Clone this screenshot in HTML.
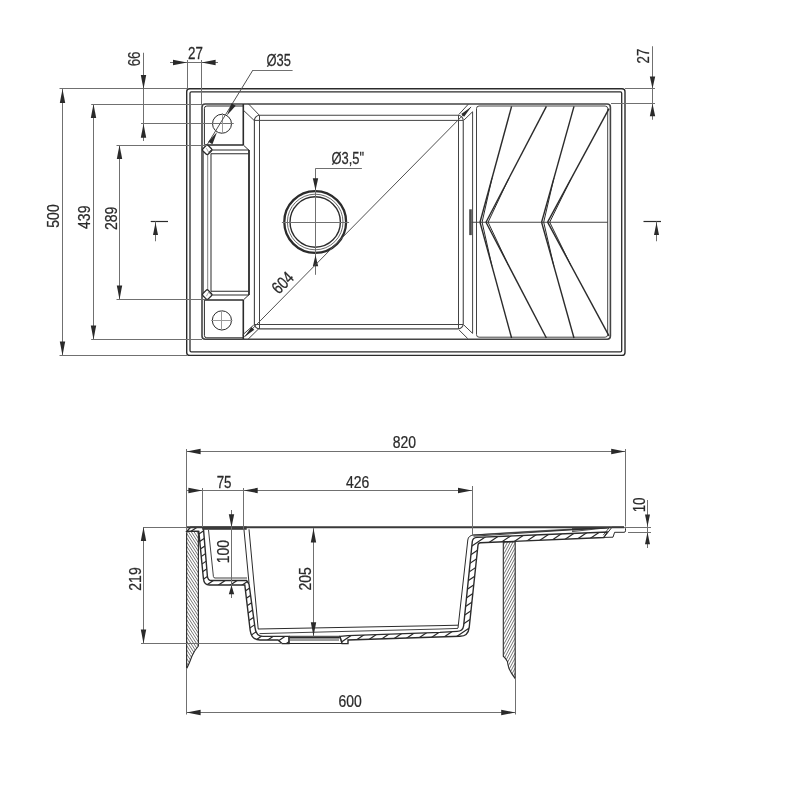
<!DOCTYPE html>
<html lang="en"><head><meta charset="utf-8"><title>Sink technical drawing</title>
<style>
html,body{margin:0;padding:0;background:#fff;}
body{width:800px;height:800px;overflow:hidden;font-family:"Liberation Sans",sans-serif;}
svg{display:block;will-change:transform;}
svg text{font-family:"Liberation Sans",sans-serif;}
</style></head><body>
<svg width="800" height="800" viewBox="0 0 800 800" shape-rendering="geometricPrecision">
<rect width="800" height="800" fill="#fff"/>
<g id="top-view">
<rect x="186.70" y="88.75" width="438.30" height="266.65" rx="3.0" ry="3.0" stroke="#2b2b2b" stroke-width="1.4" fill="none"/>
<rect x="190.00" y="91.90" width="431.70" height="259.90" rx="1.3" ry="1.3" stroke="#2b2b2b" stroke-width="1.3" fill="none"/>
<rect x="202.00" y="104.00" width="408.40" height="235.20" rx="3.2" ry="3.2" stroke="#444" stroke-width="1.6" fill="none"/>
<rect x="476.50" y="106.00" width="131.20" height="231.20" rx="2.6" ry="2.6" stroke="#444" stroke-width="1.0" fill="none"/>
<line x1="472.60" y1="111.75" x2="472.60" y2="333.40" stroke="#444" stroke-width="1.0" />
<line x1="471.50" y1="222.25" x2="607.70" y2="222.25" stroke="#444" stroke-width="1.0" />
<rect x="469.2" y="209.3" width="2.6" height="25.8" fill="#4a4a4a"/>
<line x1="511.60" y1="106.40" x2="480.00" y2="222.20" stroke="#2b2b2b" stroke-width="1.4" />
<line x1="492.01" y1="178.07" x2="482.10" y2="222.20" stroke="#2b2b2b" stroke-width="1.0" />
<line x1="546.40" y1="106.40" x2="486.00" y2="222.20" stroke="#2b2b2b" stroke-width="1.4" />
<line x1="508.95" y1="178.07" x2="488.10" y2="222.20" stroke="#2b2b2b" stroke-width="1.0" />
<line x1="574.00" y1="106.40" x2="541.60" y2="222.20" stroke="#2b2b2b" stroke-width="1.4" />
<line x1="553.91" y1="178.07" x2="543.70" y2="222.20" stroke="#2b2b2b" stroke-width="1.0" />
<line x1="609.00" y1="108.60" x2="547.60" y2="222.20" stroke="#2b2b2b" stroke-width="1.4" />
<line x1="570.93" y1="178.91" x2="549.70" y2="222.20" stroke="#2b2b2b" stroke-width="1.0" />
<line x1="511.60" y1="338.00" x2="480.00" y2="222.20" stroke="#2b2b2b" stroke-width="1.4" />
<line x1="492.01" y1="266.33" x2="482.10" y2="222.20" stroke="#2b2b2b" stroke-width="1.0" />
<line x1="546.40" y1="338.00" x2="486.00" y2="222.20" stroke="#2b2b2b" stroke-width="1.4" />
<line x1="508.95" y1="266.33" x2="488.10" y2="222.20" stroke="#2b2b2b" stroke-width="1.0" />
<line x1="574.00" y1="338.00" x2="541.60" y2="222.20" stroke="#2b2b2b" stroke-width="1.4" />
<line x1="553.91" y1="266.33" x2="543.70" y2="222.20" stroke="#2b2b2b" stroke-width="1.0" />
<line x1="609.00" y1="335.80" x2="547.60" y2="222.20" stroke="#2b2b2b" stroke-width="1.4" />
<line x1="570.93" y1="265.49" x2="549.70" y2="222.20" stroke="#2b2b2b" stroke-width="1.0" />
<path d="M204.4,144.8 V108.4 Q204.4,106 206.8,106 H243.3" stroke="#2b2b2b" stroke-width="1.0" fill="none" />
<line x1="243.30" y1="104.00" x2="243.30" y2="145.00" stroke="#2b2b2b" stroke-width="1.6" />
<line x1="205.00" y1="145.00" x2="243.30" y2="145.00" stroke="#2b2b2b" stroke-width="1.6" />
<path d="M204.4,300 V335.4 Q204.4,337.8 206.8,337.8 H243" stroke="#2b2b2b" stroke-width="1.0" fill="none" />
<line x1="243.30" y1="300.00" x2="243.30" y2="339.00" stroke="#2b2b2b" stroke-width="1.6" />
<line x1="205.00" y1="300.00" x2="243.30" y2="300.00" stroke="#2b2b2b" stroke-width="1.6" />
<line x1="203.30" y1="152.00" x2="203.30" y2="293.00" stroke="#555" stroke-width="1.0" />
<line x1="207.70" y1="154.00" x2="207.70" y2="291.00" stroke="#777" stroke-width="0.9" />
<line x1="211.00" y1="153.50" x2="211.00" y2="291.50" stroke="#666" stroke-width="1.4" />
<line x1="211.00" y1="150.00" x2="249.00" y2="150.00" stroke="#2b2b2b" stroke-width="1.0" />
<line x1="211.00" y1="153.75" x2="248.40" y2="153.75" stroke="#2b2b2b" stroke-width="1.0" />
<line x1="211.00" y1="291.25" x2="248.40" y2="291.25" stroke="#2b2b2b" stroke-width="1.0" />
<line x1="211.00" y1="295.00" x2="249.00" y2="295.00" stroke="#2b2b2b" stroke-width="1.0" />
<line x1="249.00" y1="150.00" x2="249.00" y2="295.00" stroke="#2b2b2b" stroke-width="1.8" />
<line x1="243.30" y1="145.00" x2="249.00" y2="150.30" stroke="#2b2b2b" stroke-width="1.0" />
<line x1="243.30" y1="300.00" x2="249.00" y2="294.70" stroke="#2b2b2b" stroke-width="1.0" />
<rect x="203.40" y="146.00" width="7.6" height="7.6" rx="1.6" transform="rotate(45 207.2 149.8)" stroke="#2b2b2b" stroke-width="1.3" fill="#fff"/>
<line x1="208.40" y1="152.40" x2="211.20" y2="150.00" stroke="#2b2b2b" stroke-width="0.8" />
<line x1="206.40" y1="148.20" x2="208.60" y2="152.20" stroke="#777" stroke-width="0.6" />
<rect x="203.40" y="290.80" width="7.6" height="7.6" rx="1.6" transform="rotate(45 207.2 294.6)" stroke="#2b2b2b" stroke-width="1.3" fill="#fff"/>
<line x1="208.40" y1="292.00" x2="211.20" y2="294.40" stroke="#2b2b2b" stroke-width="0.8" />
<line x1="206.40" y1="296.20" x2="208.60" y2="292.20" stroke="#777" stroke-width="0.6" />
<rect x="254.40" y="115.30" width="208.85" height="213.60" rx="5.2" ry="5.2" stroke="#444" stroke-width="1.1" fill="none"/>
<line x1="259.50" y1="115.30" x2="259.50" y2="328.90" stroke="#444" stroke-width="1.0" />
<line x1="458.50" y1="115.30" x2="458.50" y2="328.90" stroke="#444" stroke-width="1.0" />
<line x1="254.40" y1="120.40" x2="463.25" y2="120.40" stroke="#444" stroke-width="1.0" />
<line x1="254.40" y1="324.50" x2="463.25" y2="324.50" stroke="#444" stroke-width="1.0" />
<line x1="248.40" y1="103.80" x2="259.40" y2="115.30" stroke="#444" stroke-width="1.0" />
<line x1="243.75" y1="110.60" x2="254.10" y2="120.40" stroke="#444" stroke-width="1.0" />
<line x1="248.10" y1="339.20" x2="259.40" y2="328.10" stroke="#444" stroke-width="1.0" />
<line x1="242.50" y1="335.00" x2="253.75" y2="325.00" stroke="#444" stroke-width="1.0" />
<line x1="458.75" y1="114.60" x2="468.30" y2="104.20" stroke="#444" stroke-width="1.0" />
<line x1="464.00" y1="120.00" x2="472.60" y2="111.75" stroke="#444" stroke-width="1.0" />
<line x1="463.60" y1="324.75" x2="472.60" y2="333.40" stroke="#444" stroke-width="1.0" />
<line x1="459.10" y1="330.00" x2="467.75" y2="338.60" stroke="#444" stroke-width="1.0" />
<circle cx="315.20" cy="222.00" r="30.90" stroke="#2b2b2b" stroke-width="2.3" fill="none"/>
<circle cx="315.20" cy="222.00" r="27.80" stroke="#2b2b2b" stroke-width="0.7" fill="none"/>
<circle cx="315.20" cy="222.00" r="25.20" stroke="#2b2b2b" stroke-width="1.4" fill="none"/>
<line x1="281.90" y1="222.50" x2="349.10" y2="222.50" stroke="#707070" stroke-width="1.0" />
<line x1="315.50" y1="168.90" x2="315.50" y2="274.80" stroke="#707070" stroke-width="1.0" />
<line x1="315.20" y1="168.50" x2="361.90" y2="168.50" stroke="#707070" stroke-width="1.0" />
<polygon points="315.50,190.20 312.80,178.20 318.20,178.20" fill="#2a2a2a"/>
<polygon points="315.50,255.20 318.20,266.20 312.80,266.20" fill="#2a2a2a"/>
<text transform="translate(347.70,163.90) rotate(0) scale(0.742,1)" text-anchor="middle" font-size="17.4" fill="#2a2a2a" stroke="#2a2a2a" stroke-width="0.25">Ø3,5"</text>
<circle cx="222.00" cy="123.75" r="9.50" stroke="#2b2b2b" stroke-width="1.0" fill="none"/>
<circle cx="221.90" cy="320.40" r="9.60" stroke="#2b2b2b" stroke-width="1.0" fill="none"/>
<line x1="141.00" y1="123.50" x2="233.75" y2="123.50" stroke="#707070" stroke-width="1.0" />
<line x1="222.50" y1="113.00" x2="222.50" y2="133.75" stroke="#9a9a9a" stroke-width="1.0" />
<line x1="211.00" y1="320.50" x2="232.50" y2="320.50" stroke="#9a9a9a" stroke-width="1.0" />
<line x1="221.50" y1="310.00" x2="221.50" y2="331.00" stroke="#9a9a9a" stroke-width="1.0" />
<line x1="252.90" y1="70.50" x2="292.60" y2="70.50" stroke="#707070" stroke-width="1.0" />
<line x1="252.90" y1="70.10" x2="207.20" y2="144.60" stroke="#505050" stroke-width="1.0" />
<polygon points="226.90,115.60 231.57,103.23 235.68,105.71" fill="#2a2a2a"/>
<polygon points="217.10,131.90 212.43,144.27 208.32,141.79" fill="#2a2a2a"/>
<text transform="translate(278.75,65.80) rotate(0) scale(0.742,1)" text-anchor="middle" font-size="17.4" fill="#2a2a2a" stroke="#2a2a2a" stroke-width="0.25">Ø35</text>
<line x1="244.40" y1="336.90" x2="471.10" y2="106.90" stroke="#505050" stroke-width="1.0" />
<polygon points="244.40,336.90 251.40,326.95 254.25,329.76" fill="#2a2a2a"/>
<polygon points="471.10,106.90 464.10,116.85 461.25,114.04" fill="#2a2a2a"/>
<text transform="translate(286.90,286.90) rotate(-45.4) scale(0.794,1)" text-anchor="middle" font-size="17.4" fill="#2a2a2a" stroke="#2a2a2a" stroke-width="0.25">604</text>
<line x1="62.50" y1="88.90" x2="62.50" y2="355.60" stroke="#707070" stroke-width="1.0" />
<polygon points="62.50,88.90 65.20,102.90 59.80,102.90" fill="#2a2a2a"/>
<polygon points="62.50,355.60 59.80,341.60 65.20,341.60" fill="#2a2a2a"/>
<line x1="59.50" y1="88.50" x2="187.00" y2="88.50" stroke="#707070" stroke-width="1.0" />
<line x1="59.50" y1="355.50" x2="187.00" y2="355.50" stroke="#707070" stroke-width="1.0" />
<text transform="translate(59.40,216.00) rotate(-90) scale(0.803,1)" text-anchor="middle" font-size="17.4" fill="#2a2a2a" stroke="#2a2a2a" stroke-width="0.25">500</text>
<line x1="93.50" y1="104.00" x2="93.50" y2="339.40" stroke="#707070" stroke-width="1.0" />
<polygon points="93.50,104.00 96.20,118.00 90.80,118.00" fill="#2a2a2a"/>
<polygon points="93.50,339.40 90.80,325.40 96.20,325.40" fill="#2a2a2a"/>
<line x1="91.20" y1="104.50" x2="202.00" y2="104.50" stroke="#707070" stroke-width="1.0" />
<line x1="91.20" y1="339.50" x2="202.00" y2="339.50" stroke="#707070" stroke-width="1.0" />
<text transform="translate(90.40,217.25) rotate(-90) scale(0.803,1)" text-anchor="middle" font-size="17.4" fill="#2a2a2a" stroke="#2a2a2a" stroke-width="0.25">439</text>
<line x1="119.50" y1="145.00" x2="119.50" y2="299.60" stroke="#707070" stroke-width="1.0" />
<polygon points="119.50,145.00 122.20,159.00 116.80,159.00" fill="#2a2a2a"/>
<polygon points="119.50,299.60 116.80,285.60 122.20,285.60" fill="#2a2a2a"/>
<line x1="116.50" y1="145.50" x2="207.00" y2="145.50" stroke="#707070" stroke-width="1.0" />
<line x1="116.50" y1="299.50" x2="205.00" y2="299.50" stroke="#707070" stroke-width="1.0" />
<text transform="translate(117.10,218.30) rotate(-90) scale(0.803,1)" text-anchor="middle" font-size="17.4" fill="#2a2a2a" stroke="#2a2a2a" stroke-width="0.25">289</text>
<line x1="143.50" y1="52.75" x2="143.50" y2="141.00" stroke="#707070" stroke-width="1.0" />
<polygon points="143.50,88.90 140.80,74.90 146.20,74.90" fill="#2a2a2a"/>
<polygon points="143.50,123.75 146.20,137.75 140.80,137.75" fill="#2a2a2a"/>
<text transform="translate(140.20,58.90) rotate(-90) scale(0.768,1)" text-anchor="middle" font-size="17.4" fill="#2a2a2a" stroke="#2a2a2a" stroke-width="0.25">66</text>
<line x1="170.00" y1="62.50" x2="218.00" y2="62.50" stroke="#707070" stroke-width="1.0" />
<polygon points="187.00,62.50 173.00,65.20 173.00,59.80" fill="#2a2a2a"/>
<polygon points="201.60,62.50 215.60,59.80 215.60,65.20" fill="#2a2a2a"/>
<line x1="187.50" y1="60.00" x2="187.50" y2="89.00" stroke="#707070" stroke-width="1.0" />
<line x1="201.50" y1="60.00" x2="201.50" y2="104.00" stroke="#707070" stroke-width="1.0" />
<text transform="translate(195.40,58.60) rotate(0) scale(0.768,1)" text-anchor="middle" font-size="17.4" fill="#2a2a2a" stroke="#2a2a2a" stroke-width="0.25">27</text>
<line x1="652.50" y1="46.25" x2="652.50" y2="119.75" stroke="#707070" stroke-width="1.0" />
<polygon points="652.50,88.60 649.80,76.60 655.20,76.60" fill="#2a2a2a"/>
<polygon points="652.50,103.70 655.20,116.20 649.80,116.20" fill="#2a2a2a"/>
<line x1="625.00" y1="88.50" x2="655.00" y2="88.50" stroke="#707070" stroke-width="1.0" />
<line x1="611.00" y1="103.50" x2="655.00" y2="103.50" stroke="#707070" stroke-width="1.0" />
<text transform="translate(649.20,56.00) rotate(-90) scale(0.768,1)" text-anchor="middle" font-size="17.4" fill="#2a2a2a" stroke="#2a2a2a" stroke-width="0.25">27</text>
<line x1="150.75" y1="221.50" x2="168.00" y2="221.50" stroke="#2b2b2b" stroke-width="1.2" />
<line x1="155.50" y1="221.50" x2="155.50" y2="241.25" stroke="#707070" stroke-width="1.0" />
<polygon points="155.50,222.50 158.00,235.00 153.00,235.00" fill="#2a2a2a"/>
<line x1="643.50" y1="221.50" x2="661.00" y2="221.50" stroke="#2b2b2b" stroke-width="1.2" />
<line x1="656.50" y1="221.50" x2="656.50" y2="241.25" stroke="#707070" stroke-width="1.0" />
<polygon points="656.50,222.50 659.00,235.00 654.00,235.00" fill="#2a2a2a"/>
</g>
<g id="section-view">
<clipPath id="cw1"><path d="M186.6,533.2 Q186.6,531.4 188.4,531.4 H198.4 V646 Q194.5,650.5 192,656 Q189.5,663 187,668 L186.6,668 Z"/></clipPath>
<path d="M195.23,525.00L262.13,628.01 M193.26,526.28L260.15,629.29 M191.29,527.56L258.18,630.57 M189.32,528.84L256.21,631.85 M187.35,530.12L254.24,633.13 M185.38,531.40L252.27,634.41 M183.41,532.68L250.30,635.69 M181.44,533.96L248.33,636.97 M179.47,535.24L246.36,638.25 M177.50,536.52L244.39,639.53 M175.53,537.80L242.42,640.81 M173.55,539.08L240.45,642.08 M171.58,540.36L238.47,643.36 M169.61,541.64L236.50,644.64 M167.64,542.92L234.53,645.92 M165.67,544.20L232.56,647.20 M163.70,545.48L230.59,648.48 M161.73,546.76L228.62,649.76 M159.76,548.04L226.65,651.04 M157.79,549.32L224.68,652.32 M155.82,550.60L222.71,653.60 M153.85,551.88L220.74,654.88 M151.87,553.16L218.77,656.16 M149.90,554.44L216.79,657.44 M147.93,555.72L214.82,658.72 M145.96,557.00L212.85,660.00 M143.99,558.28L210.88,661.28 M142.02,559.56L208.91,662.56 M140.05,560.84L206.94,663.84 M138.08,562.12L204.97,665.12 M136.11,563.40L203.00,666.40 M134.14,564.68L201.03,667.68 M132.17,565.96L199.06,668.96 M130.20,567.24L197.09,670.24 M128.22,568.52L195.12,671.52 M126.25,569.80L193.14,672.80 M124.28,571.08L191.17,674.08" stroke="#3a3a3a" stroke-width="0.7" fill="none" clip-path="url(#cw1)"/>
<path d="M186.6,533.2 Q186.6,531.4 188.4,531.4 H198.4 V646 Q194.5,650.5 192,656 Q189.5,663 187,668 L186.6,668 Z" stroke="#2b2b2b" stroke-width="1.1" fill="none" />
<clipPath id="cw2"><path d="M503.3,542 H515.2 V678.7 Q511.5,674 509,668.5 Q507.8,664.5 507.4,661.5 Q505.5,658 503.3,656.2 Z"/></clipPath>
<path d="M445.24,649.29L505.73,535.54 M447.32,650.39L507.80,536.64 M449.39,651.50L509.88,537.74 M451.47,652.60L511.95,538.85 M453.54,653.70L514.03,539.95 M455.62,654.81L516.10,541.05 M457.69,655.91L518.18,542.16 M459.77,657.01L520.25,543.26 M461.84,658.12L522.33,544.36 M463.92,659.22L524.40,545.47 M465.99,660.32L526.48,546.57 M468.07,661.43L528.55,547.67 M470.14,662.53L530.63,548.78 M472.22,663.63L532.70,549.88 M474.29,664.74L534.78,550.98 M476.37,665.84L536.85,552.09 M478.44,666.94L538.93,553.19 M480.52,668.05L541.00,554.29 M482.59,669.15L543.08,555.40 M484.67,670.25L545.15,556.50 M486.74,671.36L547.23,557.60 M488.82,672.46L549.30,558.71 M490.89,673.56L551.38,559.81 M492.97,674.67L553.45,560.91 M495.04,675.77L555.53,562.02 M497.12,676.87L557.60,563.12 M499.19,677.98L559.67,564.22 M501.27,679.08L561.75,565.33 M503.34,680.18L563.82,566.43 M505.42,681.28L565.90,567.53 M507.49,682.39L567.97,568.64 M509.57,683.49L570.05,569.74 M511.64,684.59L572.12,570.84" stroke="#3a3a3a" stroke-width="0.7" fill="none" clip-path="url(#cw2)"/>
<path d="M503.3,542 H515.2 V678.7 Q511.5,674 509,668.5 Q507.8,664.5 507.4,661.5 Q505.5,658 503.3,656.2 Z" stroke="#2b2b2b" stroke-width="1.1" fill="none" />
<clipPath id="h1"><path d="M186.8,531.4 L190.6,527.2 H202.5 L203.5,529.3 L207.4,576.2 Q207.8,580.5 211.5,580.5 H246.6 L249,584 L255,627.5 Q256,636.4 263,636.4 H289 V643.6 H282 L278,640 H260 Q251.5,640 250.2,630.5 L244.8,585 H209.5 Q204,585 203.4,578.5 L198.8,531.4 Z"/></clipPath>
<path d="M131.15,563.68L257.80,478.26 M134.87,569.19L261.51,483.77 M138.59,574.71L265.23,489.28 M142.31,580.22L268.95,494.80 M146.02,585.73L272.67,500.31 M149.74,591.25L276.39,505.82 M153.46,596.76L280.11,511.33 M157.18,602.27L283.83,516.85 M160.90,607.79L287.55,522.36 M164.62,613.30L291.26,527.87 M168.34,618.81L294.98,533.39 M172.05,624.32L298.70,538.90 M175.77,629.84L302.42,544.41 M179.49,635.35L306.14,549.93 M183.21,640.86L309.86,555.44 M186.93,646.38L313.58,560.95 M190.65,651.89L317.29,566.47 M194.37,657.40L321.01,571.98 M198.08,662.92L324.73,577.49 M201.80,668.43L328.45,583.00 M205.52,673.94L332.17,588.52 M209.24,679.46L335.89,594.03 M212.96,684.97L339.61,599.54 M216.68,690.48L343.32,605.06" stroke="#2b2b2b" stroke-width="1.2" fill="none" clip-path="url(#h1)"/>
<path d="M186.8,531.4 L190.6,527.2 H202.5 L203.5,529.3 L207.4,576.2 Q207.8,580.5 211.5,580.5 H246.6 L249,584 L255,627.5 Q256,636.4 263,636.4 H289 V643.6 H282 L278,640 H260 Q251.5,640 250.2,630.5 L244.8,585 H209.5 Q204,585 203.4,578.5 L198.8,531.4 Z" stroke="#2b2b2b" stroke-width="1.4" fill="none" />
<clipPath id="h2"><path d="M340,636.4 L348,635.6 L440,632.4 L457,631.4 Q462.8,631.2 463.6,626 L472.3,541.5 Q472.8,537.6 477,537.4 L540,534.77 L607.6,531.93 L604,537.47 L480.5,542.8 Q478.2,543 478,545 L469.2,627.5 Q468.2,636.2 460,636.3 L348,640 V643.6 H342 Z"/></clipPath>
<path d="M286.33,566.91L527.75,404.06 M290.05,572.42L531.47,409.58 M293.76,577.93L535.19,415.09 M297.48,583.45L538.91,420.60 M301.20,588.96L542.63,426.12 M304.92,594.47L546.35,431.63 M308.64,599.99L550.06,437.14 M312.36,605.50L553.78,442.66 M316.08,611.01L557.50,448.17 M319.79,616.53L561.22,453.68 M323.51,622.04L564.94,459.19 M327.23,627.55L568.66,464.71 M330.95,633.07L572.38,470.22 M334.67,638.58L576.10,475.73 M338.39,644.09L579.81,481.25 M342.11,649.60L583.53,486.76 M345.82,655.12L587.25,492.27 M349.54,660.63L590.97,497.79 M353.26,666.14L594.69,503.30 M356.98,671.66L598.41,508.81 M360.70,677.17L602.13,514.33 M364.42,682.68L605.84,519.84 M368.14,688.20L609.56,525.35 M371.86,693.71L613.28,530.87 M375.57,699.22L617.00,536.38 M379.29,704.74L620.72,541.89 M383.01,710.25L624.44,547.40 M386.73,715.76L628.16,552.92 M390.45,721.28L631.87,558.43 M394.17,726.79L635.59,563.94 M397.89,732.30L639.31,569.46 M401.60,737.81L643.03,574.97 M405.32,743.33L646.75,580.48 M409.04,748.84L650.47,586.00 M412.76,754.35L654.19,591.51 M416.48,759.87L657.91,597.02 M420.20,765.38L661.62,602.54" stroke="#2b2b2b" stroke-width="1.2" fill="none" clip-path="url(#h2)"/>
<path d="M340,636.4 L348,635.6 L440,632.4 L457,631.4 Q462.8,631.2 463.6,626 L472.3,541.5 Q472.8,537.6 477,537.4 L540,534.77 L607.6,531.93 L604,537.47 L480.5,542.8 Q478.2,543 478,545 L469.2,627.5 Q468.2,636.2 460,636.3 L348,640 V643.6 H342 Z" stroke="#2b2b2b" stroke-width="1.4" fill="none" />
<path d="M612,527.2 H623.6 Q625.5,527.3 625.5,528.8 V530.8 Q625.5,532.3 624,532.3 H614.6 L613,537.2 L604,537.4 Z" stroke="#2b2b2b" stroke-width="1.0" fill="#fff" />
<line x1="609.50" y1="527.30" x2="603.20" y2="535.20" stroke="#2b2b2b" stroke-width="0.8" />
<path d="M610,527.4 L473.5,535.0" stroke="#2b2b2b" stroke-width="0.9" fill="none" />
<path d="M610,527.4 L473.5,536.2" stroke="#2b2b2b" stroke-width="0.9" fill="none" />
<path d="M609,527.8 Q560,529 473,535" stroke="#2b2b2b" stroke-width="0.7" fill="none" />
<line x1="609.50" y1="527.50" x2="572.00" y2="528.60" stroke="#2b2b2b" stroke-width="0.8" />
<line x1="609.50" y1="527.50" x2="572.00" y2="530.20" stroke="#2b2b2b" stroke-width="0.8" />
<line x1="609.50" y1="527.50" x2="572.00" y2="531.60" stroke="#2b2b2b" stroke-width="0.8" />
<path d="M458,628 L467.8,540 Q468.3,535.6 473.5,535" stroke="#2b2b2b" stroke-width="1.0" fill="none" />
<line x1="289.00" y1="636.30" x2="340.00" y2="636.30" stroke="#2b2b2b" stroke-width="1.0" />
<line x1="289.50" y1="637.80" x2="339.80" y2="637.80" stroke="#2b2b2b" stroke-width="1.4" />
<line x1="282.00" y1="643.50" x2="348.00" y2="643.50" stroke="#2b2b2b" stroke-width="1.1" />
<line x1="290.00" y1="640.00" x2="339.00" y2="640.00" stroke="#2b2b2b" stroke-width="0.9" />
<line x1="289.00" y1="636.40" x2="289.00" y2="643.60" stroke="#2b2b2b" stroke-width="1.0" />
<path d="M340,636.4 L342,643.6" stroke="#2b2b2b" stroke-width="1.0" fill="none" />
<path d="M258,629 L440,625.6 L458,625.2" stroke="#2b2b2b" stroke-width="1.0" fill="none" />
<path d="M259.5,633.6 L440,629 L458,628.4" stroke="#2b2b2b" stroke-width="0.9" fill="none" />
<line x1="244.00" y1="530.00" x2="249.00" y2="583.00" stroke="#2b2b2b" stroke-width="1.0" />
<line x1="249.00" y1="529.30" x2="258.20" y2="629.00" stroke="#2b2b2b" stroke-width="1.0" />
<path d="M208.5,530 L213.4,576.5 Q213.6,578 215,578 H247" stroke="#2b2b2b" stroke-width="0.9" fill="none" />
<line x1="143.00" y1="527.50" x2="651.00" y2="527.50" stroke="#707070" stroke-width="1.0" />
<line x1="187.00" y1="527.20" x2="624.00" y2="527.20" stroke="#3a3a3a" stroke-width="2.0" />
<rect x="202.3" y="526.5" width="44.4" height="3.3" fill="#3a3a3a"/>
<line x1="186.60" y1="451.50" x2="625.20" y2="451.50" stroke="#707070" stroke-width="1.0" />
<polygon points="186.60,451.50 200.60,448.80 200.60,454.20" fill="#2a2a2a"/>
<polygon points="625.20,451.50 611.20,454.20 611.20,448.80" fill="#2a2a2a"/>
<line x1="186.50" y1="449.00" x2="186.50" y2="531.00" stroke="#707070" stroke-width="1.0" />
<line x1="625.50" y1="449.00" x2="625.50" y2="526.50" stroke="#707070" stroke-width="1.0" />
<text transform="translate(404.30,447.60) rotate(0) scale(0.803,1)" text-anchor="middle" font-size="17.4" fill="#2a2a2a" stroke="#2a2a2a" stroke-width="0.25">820</text>
<line x1="186.60" y1="490.50" x2="472.00" y2="490.50" stroke="#707070" stroke-width="1.0" />
<polygon points="202.40,490.50 188.40,493.20 188.40,487.80" fill="#2a2a2a"/>
<polygon points="243.70,490.50 257.70,487.80 257.70,493.20" fill="#2a2a2a"/>
<polygon points="472.00,490.50 458.00,493.20 458.00,487.80" fill="#2a2a2a"/>
<line x1="202.50" y1="488.00" x2="202.50" y2="527.00" stroke="#707070" stroke-width="1.0" />
<line x1="243.50" y1="488.00" x2="243.50" y2="529.00" stroke="#707070" stroke-width="1.0" />
<line x1="472.50" y1="486.00" x2="472.50" y2="536.00" stroke="#707070" stroke-width="1.0" />
<text transform="translate(224.10,487.60) rotate(0) scale(0.768,1)" text-anchor="middle" font-size="17.4" fill="#2a2a2a" stroke="#2a2a2a" stroke-width="0.25">75</text>
<text transform="translate(357.60,487.60) rotate(0) scale(0.803,1)" text-anchor="middle" font-size="17.4" fill="#2a2a2a" stroke="#2a2a2a" stroke-width="0.25">426</text>
<line x1="231.50" y1="510.00" x2="231.50" y2="598.00" stroke="#707070" stroke-width="1.0" />
<polygon points="231.50,527.20 228.80,514.20 234.20,514.20" fill="#2a2a2a"/>
<polygon points="231.50,585.20 234.20,594.20 228.80,594.20" fill="#2a2a2a"/>
<text transform="translate(228.80,551.65) rotate(-90) scale(0.803,1)" text-anchor="middle" font-size="17.4" fill="#2a2a2a" stroke="#2a2a2a" stroke-width="0.25">100</text>
<line x1="313.50" y1="528.00" x2="313.50" y2="636.40" stroke="#707070" stroke-width="1.0" />
<polygon points="313.50,528.40 316.20,542.40 310.80,542.40" fill="#2a2a2a"/>
<polygon points="313.50,636.20 310.80,622.20 316.20,622.20" fill="#2a2a2a"/>
<text transform="translate(310.90,578.90) rotate(-90) scale(0.803,1)" text-anchor="middle" font-size="17.4" fill="#2a2a2a" stroke="#2a2a2a" stroke-width="0.25">205</text>
<line x1="143.50" y1="527.00" x2="143.50" y2="643.60" stroke="#707070" stroke-width="1.0" />
<polygon points="143.50,527.00 146.20,541.00 140.80,541.00" fill="#2a2a2a"/>
<polygon points="143.50,643.60 140.80,629.60 146.20,629.60" fill="#2a2a2a"/>
<line x1="141.00" y1="643.50" x2="282.00" y2="643.50" stroke="#707070" stroke-width="1.0" />
<text transform="translate(140.90,579.00) rotate(-90) scale(0.803,1)" text-anchor="middle" font-size="17.4" fill="#2a2a2a" stroke="#2a2a2a" stroke-width="0.25">219</text>
<line x1="186.60" y1="712.50" x2="515.20" y2="712.50" stroke="#707070" stroke-width="1.0" />
<polygon points="186.60,712.50 200.60,709.80 200.60,715.20" fill="#2a2a2a"/>
<polygon points="515.20,712.50 501.20,715.20 501.20,709.80" fill="#2a2a2a"/>
<line x1="186.50" y1="668.00" x2="186.50" y2="714.50" stroke="#707070" stroke-width="1.0" />
<line x1="515.50" y1="678.00" x2="515.50" y2="714.50" stroke="#707070" stroke-width="1.0" />
<text transform="translate(350.20,706.80) rotate(0) scale(0.803,1)" text-anchor="middle" font-size="17.4" fill="#2a2a2a" stroke="#2a2a2a" stroke-width="0.25">600</text>
<line x1="647.50" y1="500.00" x2="647.50" y2="548.00" stroke="#707070" stroke-width="1.0" />
<polygon points="647.50,526.50 645.00,514.50 650.00,514.50" fill="#2a2a2a"/>
<polygon points="647.50,532.20 650.00,544.20 645.00,544.20" fill="#2a2a2a"/>
<line x1="628.00" y1="532.50" x2="651.00" y2="532.50" stroke="#707070" stroke-width="1.0" />
<text transform="translate(645.20,504.90) rotate(-90) scale(0.768,1)" text-anchor="middle" font-size="17.4" fill="#2a2a2a" stroke="#2a2a2a" stroke-width="0.25">10</text>
</g>
</svg>
</body></html>
